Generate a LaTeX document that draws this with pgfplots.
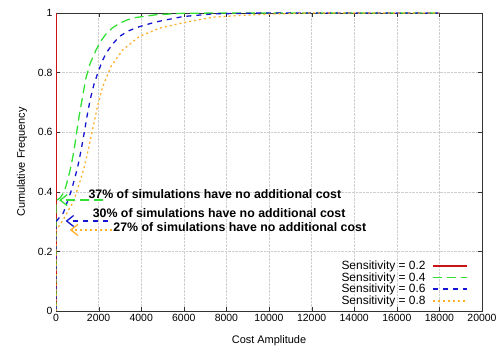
\documentclass[border=0pt]{standalone}
\usepackage{fontspec}
\setmainfont{Liberation Sans}
\usepackage{pgfplots}
\pgfplotsset{compat=1.18}
\usetikzlibrary{arrows.meta}
\definecolor{cred}{RGB}{200,20,20}
\definecolor{cgreen}{RGB}{50,225,50}
\definecolor{cblue}{RGB}{20,20,210}
\definecolor{corange}{RGB}{255,175,40}
\begin{document}
\begin{tikzpicture}
\useasboundingbox (-56bp,-39bp) rectangle (447bp,311bp);
\begin{axis}[
  scale only axis,
  width=426bp, height=298bp,
  xmin=0, xmax=20000, ymin=0, ymax=1,
  xtick={0,2000,...,20000},
  ytick={0,0.2,...,1},
  scaled x ticks=false,
  /pgf/number format/assume math mode=true,
  x tick label style={/pgf/number format/.cd, 1000 sep={}},
  tick label style={font=\fontsize{10.5}{12}\selectfont},
  grid=major,
  major grid style={densely dotted, gray!38},
  axis line style={black!80},
  tick style={black!80},
  xlabel={Cost Amplitude},
  ylabel={Cumulative Frequency},
  label style={font=\fontsize{11}{13}\selectfont},
  xlabel style={at={(axis description cs:0.5,-0.1)}, anchor=center},
  ylabel style={at={(axis description cs:-0.08,0.5)}, anchor=center},
  legend plot pos=right,
  legend cell align=right,
  legend image code/.code={\draw[#1, line width=1.6pt] (0bp,0bp) -- (34bp,0bp);},
  legend style={draw=none, fill=none, at={(0.975,0.006)}, anchor=south east,
    font=\fontsize{12}{13}\selectfont, row sep=-0.5pt, column sep=6bp,
    nodes={inner sep=1pt}},
]
\addplot[cred, line width=3pt] coordinates {(0,0) (0,1)};
\addlegendentry{Sensitivity = 0.2}
\addplot[cgreen, line width=1.3pt, dash pattern=on 9pt off 5pt] coordinates {
 (0,0) (0,0.37) (200,0.38) (390,0.40) (550,0.44) (700,0.484) (850,0.54) (970,0.60) (1100,0.66)
 (1220,0.708) (1400,0.78) (1600,0.83) (1880,0.876) (2100,0.905) (2350,0.93) (2650,0.95)
 (2970,0.965) (3350,0.977) (3760,0.985) (4690,0.994) (5950,0.999) (8000,1) (18000,1)};
\addlegendentry{Sensitivity = 0.4}
\addplot[cblue, line width=1.3pt, dash pattern=on 5pt off 5pt] coordinates {
 (0,0) (0,0.30) (350,0.33) (700,0.40) (860,0.44) (1020,0.484) (1180,0.54) (1330,0.60)
 (1460,0.655) (1600,0.708) (1780,0.76) (1960,0.798) (2150,0.835) (2350,0.865) (2650,0.895)
 (2970,0.921) (3400,0.94) (3910,0.954) (4690,0.970) (5950,0.988) (7360,0.997) (9700,1) (18000,1)};
\addlegendentry{Sensitivity = 0.6}
\addplot[corange, line width=1.3pt, dash pattern=on 2pt off 3pt] coordinates {
 (0,0) (0,0.27) (330,0.305) (850,0.372) (970,0.40) (1150,0.44) (1330,0.484) (1510,0.54)
 (1690,0.60) (1960,0.69) (2190,0.753) (2580,0.82) (3130,0.876) (3910,0.921) (4850,0.949)
 (5950,0.967) (7360,0.986) (8950,0.993) (10360,0.997) (12000,1) (18000,1)};
\addlegendentry{Sensitivity = 0.8}
\draw[cgreen, line width=1.3pt, dash pattern=on 9pt off 5pt, -{Straight Barb[length=7pt,width=11pt]}]
  (axis cs:2200,0.372) -- (axis cs:150,0.372);
\draw[cblue, line width=1.3pt, dash pattern=on 5pt off 5pt, -{Straight Barb[length=7pt,width=11pt]}]
  (axis cs:2450,0.302) -- (axis cs:450,0.302);
\draw[corange, line width=1.3pt, dash pattern=on 2pt off 3pt, -{Straight Barb[length=7pt,width=11pt]}]
  (axis cs:2630,0.272) -- (axis cs:650,0.272);
\node[anchor=base west, inner sep=0pt, font=\bfseries\fontsize{12.4}{14}\selectfont]
  at (axis cs:1520,0.376) {37\% of simulations have no additional cost};
\node[anchor=base west, inner sep=0pt, font=\bfseries\fontsize{12.4}{14}\selectfont]
  at (axis cs:1720,0.313) {30\% of simulations have no additional cost};
\node[anchor=base west, inner sep=0pt, font=\bfseries\fontsize{12.4}{14}\selectfont]
  at (axis cs:2690,0.268) {27\% of simulations have no additional cost};
\end{axis}
\end{tikzpicture}
\end{document}
